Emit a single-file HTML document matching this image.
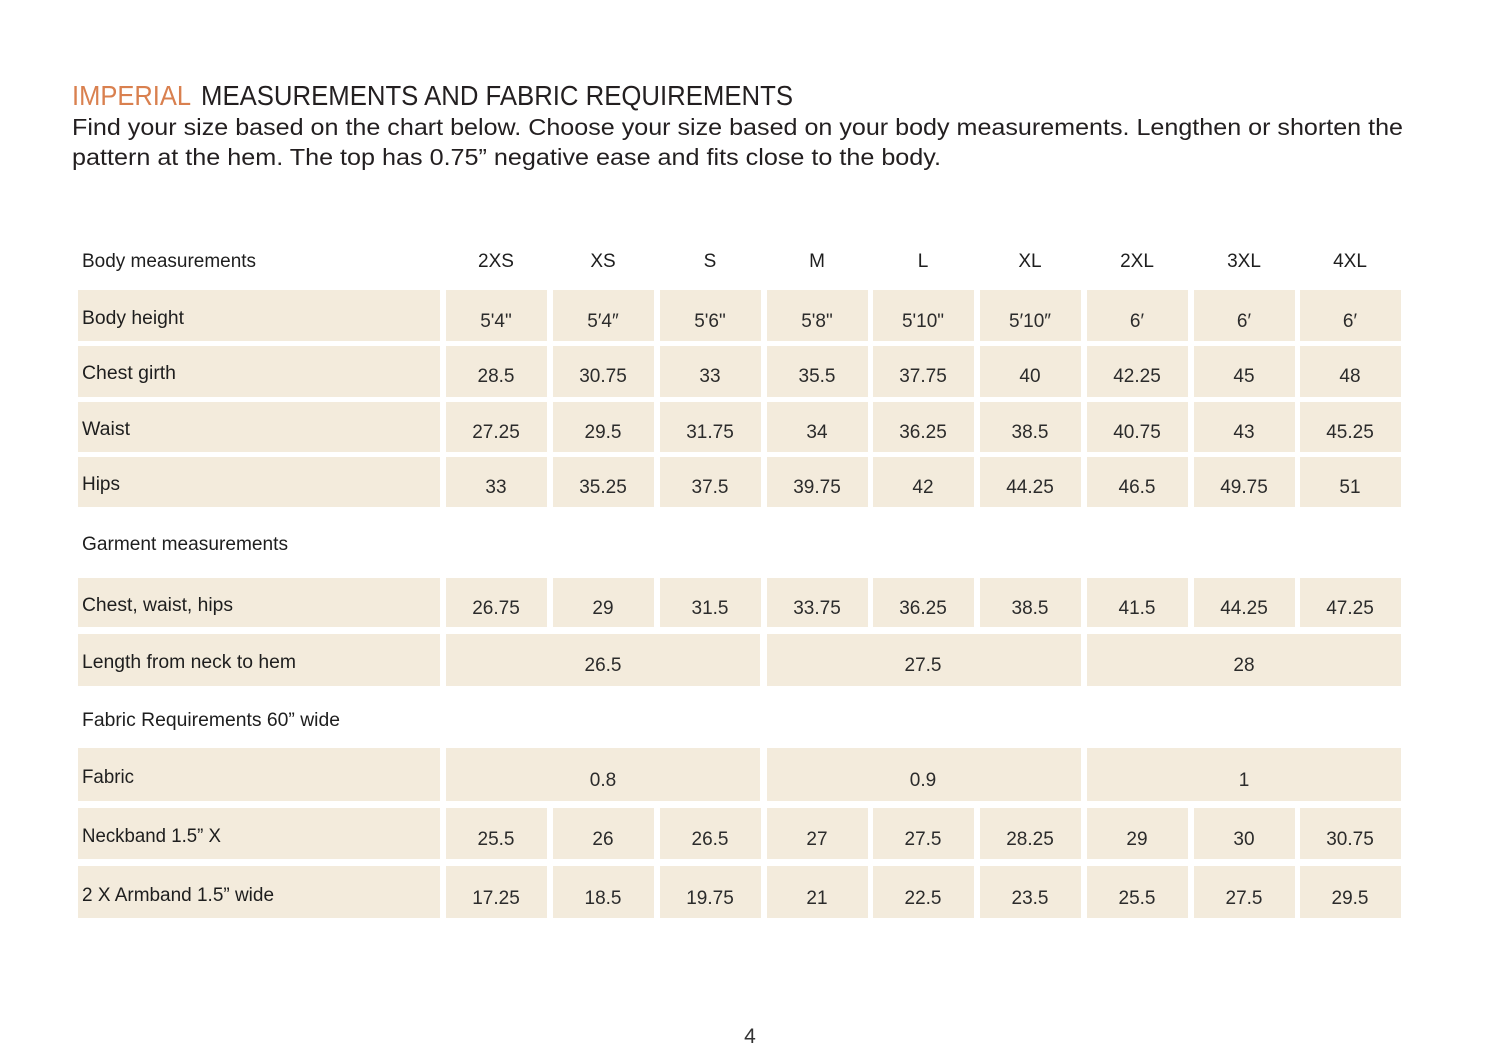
<!DOCTYPE html>
<html><head><meta charset="utf-8"><style>
html,body{margin:0;padding:0;background:#fff;}
svg{display:block;}
.t{font-family:"Liberation Sans",sans-serif;}
.n{font-family:"Liberation Sans Narrow","Liberation Sans",sans-serif;font-size:19px;fill:#1e1e1e;}
.v{font-family:"Liberation Sans",sans-serif;font-size:19px;fill:#2b2b2b;text-anchor:middle;}
.c{fill:#f3ebdc;}
</style></head><body>
<svg width="1500" height="1057" viewBox="0 0 1500 1057" xmlns="http://www.w3.org/2000/svg">
<rect width="1500" height="1057" fill="#fff"/>
<text class="t" x="72" y="105" font-size="28" fill="#d9804f" textLength="119" lengthAdjust="spacingAndGlyphs">IMPERIAL</text>
<text class="t" x="201" y="105" font-size="28" fill="#231f20" textLength="592" lengthAdjust="spacingAndGlyphs">MEASUREMENTS AND FABRIC REQUIREMENTS</text>
<text class="t" x="72" y="135" font-size="23.5" fill="#231f20" textLength="1331" lengthAdjust="spacingAndGlyphs">Find your size based on the chart below. Choose your size based on your body measurements. Lengthen or shorten the</text>
<text class="t" x="72" y="165" font-size="23.5" fill="#231f20" textLength="869" lengthAdjust="spacingAndGlyphs">pattern at the hem. The top has 0.75” negative ease and fits close to the body.</text>

<!-- header -->
<text class="n" x="82" y="267" textLength="174" lengthAdjust="spacingAndGlyphs">Body measurements</text>
<g class="n" text-anchor="middle">
<text x="496" y="267" text-anchor="middle">2XS</text>
<text x="603" y="267" text-anchor="middle">XS</text>
<text x="710" y="267" text-anchor="middle">S</text>
<text x="817" y="267" text-anchor="middle">M</text>
<text x="923" y="267" text-anchor="middle">L</text>
<text x="1030" y="267" text-anchor="middle">XL</text>
<text x="1137" y="267" text-anchor="middle">2XL</text>
<text x="1244" y="267" text-anchor="middle">3XL</text>
<text x="1350" y="267" text-anchor="middle">4XL</text>
</g>

<!-- cells: label col 78-440, cols pitch -->
<g class="c">
<!-- body rows -->
<rect x="78" y="290" width="362" height="51"/>
<rect x="78" y="346" width="362" height="51"/>
<rect x="78" y="402" width="362" height="50"/>
<rect x="78" y="457" width="362" height="50"/>
<rect x="78" y="578" width="362" height="49"/>
<rect x="78" y="634" width="362" height="52"/>
<rect x="78" y="748" width="362" height="53"/>
<rect x="78" y="808" width="362" height="51"/>
<rect x="78" y="866" width="362" height="52"/>
</g>
<g class="c" id="cols">
<!-- generated per row below -->
</g>
<g class="c">
<!-- row 290 -->
<rect x="446" y="290" width="101" height="51"/><rect x="553" y="290" width="101" height="51"/><rect x="660" y="290" width="101" height="51"/><rect x="767" y="290" width="101" height="51"/><rect x="873" y="290" width="101" height="51"/><rect x="980" y="290" width="101" height="51"/><rect x="1087" y="290" width="101" height="51"/><rect x="1194" y="290" width="101" height="51"/><rect x="1300" y="290" width="101" height="51"/>
<rect x="446" y="346" width="101" height="51"/><rect x="553" y="346" width="101" height="51"/><rect x="660" y="346" width="101" height="51"/><rect x="767" y="346" width="101" height="51"/><rect x="873" y="346" width="101" height="51"/><rect x="980" y="346" width="101" height="51"/><rect x="1087" y="346" width="101" height="51"/><rect x="1194" y="346" width="101" height="51"/><rect x="1300" y="346" width="101" height="51"/>
<rect x="446" y="402" width="101" height="50"/><rect x="553" y="402" width="101" height="50"/><rect x="660" y="402" width="101" height="50"/><rect x="767" y="402" width="101" height="50"/><rect x="873" y="402" width="101" height="50"/><rect x="980" y="402" width="101" height="50"/><rect x="1087" y="402" width="101" height="50"/><rect x="1194" y="402" width="101" height="50"/><rect x="1300" y="402" width="101" height="50"/>
<rect x="446" y="457" width="101" height="50"/><rect x="553" y="457" width="101" height="50"/><rect x="660" y="457" width="101" height="50"/><rect x="767" y="457" width="101" height="50"/><rect x="873" y="457" width="101" height="50"/><rect x="980" y="457" width="101" height="50"/><rect x="1087" y="457" width="101" height="50"/><rect x="1194" y="457" width="101" height="50"/><rect x="1300" y="457" width="101" height="50"/>
<rect x="446" y="578" width="101" height="49"/><rect x="553" y="578" width="101" height="49"/><rect x="660" y="578" width="101" height="49"/><rect x="767" y="578" width="101" height="49"/><rect x="873" y="578" width="101" height="49"/><rect x="980" y="578" width="101" height="49"/><rect x="1087" y="578" width="101" height="49"/><rect x="1194" y="578" width="101" height="49"/><rect x="1300" y="578" width="101" height="49"/>
<rect x="446" y="634" width="314" height="52"/><rect x="767" y="634" width="314" height="52"/><rect x="1087" y="634" width="314" height="52"/>
<rect x="446" y="748" width="314" height="53"/><rect x="767" y="748" width="314" height="53"/><rect x="1087" y="748" width="314" height="53"/>
<rect x="446" y="808" width="101" height="51"/><rect x="553" y="808" width="101" height="51"/><rect x="660" y="808" width="101" height="51"/><rect x="767" y="808" width="101" height="51"/><rect x="873" y="808" width="101" height="51"/><rect x="980" y="808" width="101" height="51"/><rect x="1087" y="808" width="101" height="51"/><rect x="1194" y="808" width="101" height="51"/><rect x="1300" y="808" width="101" height="51"/>
<rect x="446" y="866" width="101" height="52"/><rect x="553" y="866" width="101" height="52"/><rect x="660" y="866" width="101" height="52"/><rect x="767" y="866" width="101" height="52"/><rect x="873" y="866" width="101" height="52"/><rect x="980" y="866" width="101" height="52"/><rect x="1087" y="866" width="101" height="52"/><rect x="1194" y="866" width="101" height="52"/><rect x="1300" y="866" width="101" height="52"/>
</g>

<!-- labels -->
<text class="n" x="82" y="324" textLength="102" lengthAdjust="spacingAndGlyphs">Body height</text>
<text class="n" x="82" y="379" textLength="94" lengthAdjust="spacingAndGlyphs">Chest girth</text>
<text class="n" x="82" y="435" textLength="48" lengthAdjust="spacingAndGlyphs">Waist</text>
<text class="n" x="82" y="490" textLength="38" lengthAdjust="spacingAndGlyphs">Hips</text>
<text class="n" x="82" y="550" textLength="206" lengthAdjust="spacingAndGlyphs">Garment measurements</text>
<text class="n" x="82" y="611" textLength="151" lengthAdjust="spacingAndGlyphs">Chest, waist, hips</text>
<text class="n" x="82" y="668" textLength="214" lengthAdjust="spacingAndGlyphs">Length from neck to hem</text>
<text class="n" x="82" y="726" textLength="258" lengthAdjust="spacingAndGlyphs">Fabric Requirements 60” wide</text>
<text class="n" x="82" y="783" textLength="52" lengthAdjust="spacingAndGlyphs">Fabric</text>
<text class="n" x="82" y="842" textLength="139" lengthAdjust="spacingAndGlyphs">Neckband 1.5” X</text>
<text class="n" x="82" y="901" textLength="192" lengthAdjust="spacingAndGlyphs">2 X Armband 1.5” wide</text>

<!-- values -->
<g class="v">
<text x="496" y="327">5'4"</text><text x="603" y="327">5′4″</text><text x="710" y="327">5'6"</text><text x="817" y="327">5'8"</text><text x="923" y="327">5'10"</text><text x="1030" y="327">5′10″</text><text x="1137" y="327">6′</text><text x="1244" y="327">6′</text><text x="1350" y="327">6′</text>
<text x="496" y="382">28.5</text><text x="603" y="382">30.75</text><text x="710" y="382">33</text><text x="817" y="382">35.5</text><text x="923" y="382">37.75</text><text x="1030" y="382">40</text><text x="1137" y="382">42.25</text><text x="1244" y="382">45</text><text x="1350" y="382">48</text>
<text x="496" y="438">27.25</text><text x="603" y="438">29.5</text><text x="710" y="438">31.75</text><text x="817" y="438">34</text><text x="923" y="438">36.25</text><text x="1030" y="438">38.5</text><text x="1137" y="438">40.75</text><text x="1244" y="438">43</text><text x="1350" y="438">45.25</text>
<text x="496" y="493">33</text><text x="603" y="493">35.25</text><text x="710" y="493">37.5</text><text x="817" y="493">39.75</text><text x="923" y="493">42</text><text x="1030" y="493">44.25</text><text x="1137" y="493">46.5</text><text x="1244" y="493">49.75</text><text x="1350" y="493">51</text>
<text x="496" y="614">26.75</text><text x="603" y="614">29</text><text x="710" y="614">31.5</text><text x="817" y="614">33.75</text><text x="923" y="614">36.25</text><text x="1030" y="614">38.5</text><text x="1137" y="614">41.5</text><text x="1244" y="614">44.25</text><text x="1350" y="614">47.25</text>
<text x="603" y="671">26.5</text><text x="923" y="671">27.5</text><text x="1244" y="671">28</text>
<text x="603" y="786">0.8</text><text x="923" y="786">0.9</text><text x="1244" y="786">1</text>
<text x="496" y="845">25.5</text><text x="603" y="845">26</text><text x="710" y="845">26.5</text><text x="817" y="845">27</text><text x="923" y="845">27.5</text><text x="1030" y="845">28.25</text><text x="1137" y="845">29</text><text x="1244" y="845">30</text><text x="1350" y="845">30.75</text>
<text x="496" y="904">17.25</text><text x="603" y="904">18.5</text><text x="710" y="904">19.75</text><text x="817" y="904">21</text><text x="923" y="904">22.5</text><text x="1030" y="904">23.5</text><text x="1137" y="904">25.5</text><text x="1244" y="904">27.5</text><text x="1350" y="904">29.5</text>
</g>

<text class="t" x="750" y="1043" font-size="21" fill="#333" text-anchor="middle">4</text>
</svg>
</body></html>
